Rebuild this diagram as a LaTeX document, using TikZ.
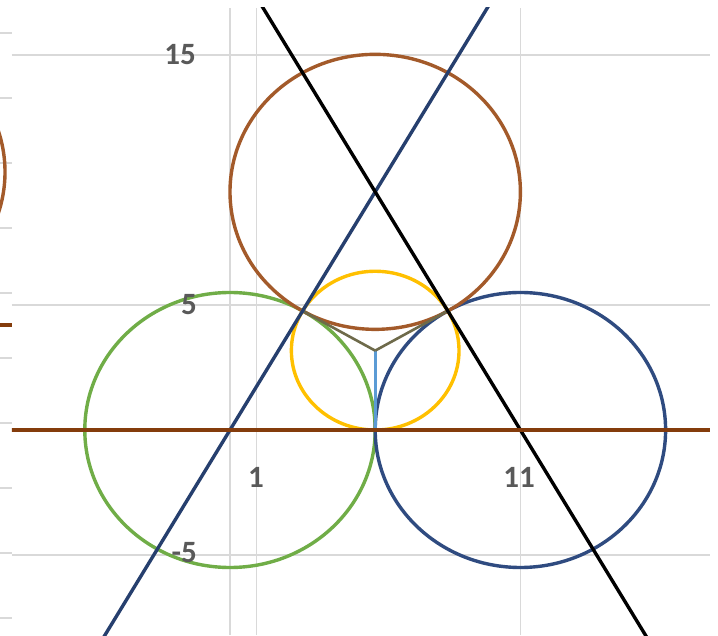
\documentclass[tikz,border=0pt]{standalone}
\usepackage{fontspec}
\setmainfont{Carlito}
\definecolor{gridgray}{HTML}{D9D9D9}
\definecolor{lblgray}{HTML}{595959}
\definecolor{greenc}{HTML}{70AD47}
\definecolor{navyc}{HTML}{2F4B80}
\definecolor{brownc}{HTML}{A35A2A}
\definecolor{hline}{HTML}{843C0C}
\definecolor{yellowc}{HTML}{FFC000}
\definecolor{bluelinec}{HTML}{263F6E}
\definecolor{vlinec}{HTML}{5B9BD5}
\definecolor{slantc}{HTML}{6E6A4A}
\begin{document}
\begin{tikzpicture}[x=1pt,y=1pt,
  grid/.style={draw=gridgray,line width=1.5pt},
  curve/.style={line width=3.4pt},
  thin curve/.style={line width=2.6pt},
  lbl/.style={text=lblgray,font=\fontsize{31}{31}\selectfont\bfseries,inner sep=0pt}]
\useasboundingbox (0,0) rectangle (718,635);
\fill[white] (0,0) rectangle (718,635);
% left strip (neighbouring chart)
\foreach \yy in {602,537,472,407,342,277,212,147,82,17}
  \draw[grid] (0,\yy) -- (12,\yy);
\begin{scope}
  \clip (0,0) rectangle (12,635);
  \coordinate (L) at (-140,463);
  \draw[brownc,curve] (L) ellipse [x radius=145,y radius=137];
  \coordinate (la) at (0,310);
  \coordinate (lb) at (12,310);
  \draw[hline,curve] (la) -- (lb);
\end{scope}
% main chart
\begin{scope}[shift={(230,205)},x=26.4pt,y=25pt]
  \foreach \gy in {15,5,-5}
    \draw[grid] (-8.258,\gy) -- (18.18,\gy);
  \foreach \gx in {0,1,11}
    \draw[grid] (\gx,-8.2) -- (\gx,16.88);
  \clip (-8.258,-8.2) rectangle (18.18,16.88);
  \coordinate (G) at (0,0);
  \coordinate (B) at (11,0);
  \coordinate (R) at (5.5,9.526);
  \coordinate (Y) at (5.5,3.175);
  \coordinate (T1) at (5.5,0);
  \coordinate (T2) at (2.75,4.763);
  \coordinate (T3) at (8.25,4.763);
  \coordinate (P1) at (-6,-10.392);
  \coordinate (P2) at (11,19.053);
  \coordinate (Q1) at (17,-10.392);
  \coordinate (Q2) at (0,19.053);
  \coordinate (H1) at (-9,0);
  \coordinate (H2) at (19,0);
  \draw[greenc,curve] (G) circle [radius=5.5];
  \draw[navyc,curve] (B) circle [radius=5.5];
  \draw[brownc,curve] (R) circle [radius=5.5];
  \draw[yellowc,curve] (Y) circle [radius=3.175];
  \draw[vlinec,thin curve] (Y) -- (T1);
  \draw[slantc,thin curve] (Y) -- (T2);
  \draw[slantc,thin curve] (Y) -- (T3);
  \draw[bluelinec,curve] (P1) -- (P2);
  \draw[black,curve] (Q1) -- (Q2);
  \draw[hline,curve] (H1) -- (H2);
\end{scope}
% labels
\node[lbl,anchor=east] (l15) at (196,580) {15};
\node[lbl,anchor=east] (l5) at (197,330) {5};
\node[lbl,anchor=east] (lm5) at (197,82) {-5};
\node[lbl] (l1) at (256,158) {1};
\node[lbl] (l11) at (519,158) {11};
\end{tikzpicture}
\end{document}
